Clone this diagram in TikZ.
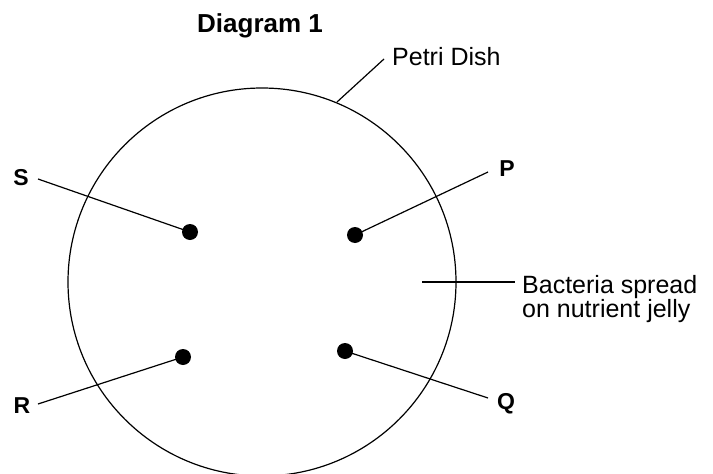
\documentclass[tikz,border=0pt]{standalone}
\usepackage{fontspec}
\setmainfont{Liberation Sans}
\begin{document}
\begin{tikzpicture}[x=1pt,y=-1pt,
  line/.style={line width=1.2pt,black},
  dot/.style={circle,fill=black,inner sep=0pt,minimum size=16pt},
  letter/.style={font=\bfseries\fontsize{23}{26}\selectfont,inner sep=0pt},
  plain/.style={font=\fontsize{25}{24}\selectfont,inner sep=0pt},
  title/.style={font=\bfseries\fontsize{26}{28}\selectfont,inner sep=0pt}]
\useasboundingbox[fill=white] (0,0) rectangle (713,474);
% dish
\node[draw,line width=1.2pt,circle,inner sep=0pt,minimum size=388pt] (dish) at (262,282) {};
% texts
\node[title,anchor=base west] (ttl) at (197,32) {Diagram 1};
\node[plain,anchor=base west] (petri) at (392,65) {Petri Dish};
\node[plain,anchor=base west,align=left] (bact) at (522,317) {Bacteria spread\\on nutrient jelly};
\node[letter] (S) at (21,178) {S};
\node[letter] (P) at (507,169) {P};
\node[letter] (R) at (22,406) {R};
\node[letter] (Q) at (506,404) {Q};
% dots
\node[dot] (dS) at (190,232) {};
\node[dot] (dP) at (355,235) {};
\node[dot] (dR) at (183,357) {};
\node[dot] (dQ) at (345,351) {};
% leader ends
\coordinate (eS) at (38,179);
\coordinate (eP) at (488,172);
\coordinate (eR) at (38,404);
\coordinate (eQ) at (488,398);
\coordinate (bA) at (422,282);
\coordinate (bB) at (515,282);
\coordinate (pA) at (337,102);
\coordinate (pB) at (384,59);
% connectors
\draw[line] (eS) -- (dS.center);
\draw[line] (dP.center) -- (eP);
\draw[line] (eR) -- (dR.center);
\draw[line] (dQ.center) -- (eQ);
\draw[line] (bA) -- (bB);
\draw[line] (pA) -- (pB);
\end{tikzpicture}
\end{document}
